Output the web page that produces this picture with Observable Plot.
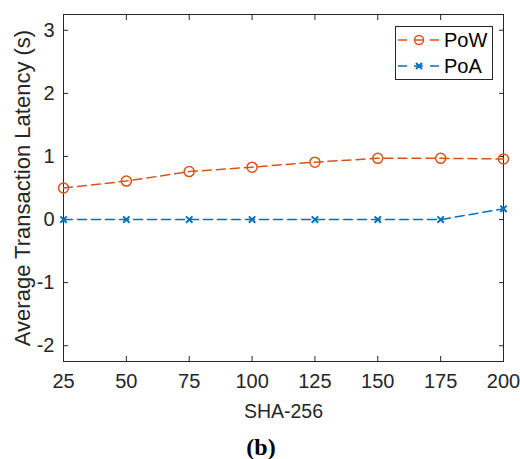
<!DOCTYPE html>
<html>
<head>
<meta charset="utf-8">
<script src="https://cdn.jsdelivr.net/npm/d3@7"></script>
<script src="https://cdn.jsdelivr.net/npm/@observablehq/plot@0.6"></script>
<style>
  body { margin: 0; background: #fff; }
  #wrap { position: relative; width: 520px; height: 459px; overflow: hidden; font-family: "Liberation Sans", Arial, sans-serif; color: #262626; }
  #legend { position: absolute; left: 395px; top: 26px; width: 96px; height: 52px; border: 1px solid #262626; background: #fff; }
  .row { position: absolute; left: 0; height: 26px; display: flex; align-items: center; }
  .row svg { display: block; }
  .row span { font-size: 20px; margin-left: 0px; color: #000; }
  #caption { position: absolute; left: 0; width: 522px; top: 432px; text-align: center; font-family: "Liberation Serif", "DejaVu Serif", serif; font-weight: bold; font-size: 24px; color: #000; line-height: 30px; }
</style>
</head>
<body>
<div id="wrap">
  <div id="chart"></div>
  <div id="legend"></div>
  <div id="caption">(b)</div>
</div>
<script>
const sizes = [25, 50, 75, 100, 125, 150, 175, 200];
const powLatency = [0.50, 0.61, 0.76, 0.83, 0.91, 0.97, 0.97, 0.96];
const poaLatency = [0.00, 0.00, 0.00, 0.00, 0.00, 0.00, 0.00, 0.17];
const seriesNames = ["PoW", "PoA"];
const seriesColors = ["#D95319", "#0072BD"];
const xTicks = [25, 50, 75, 100, 125, 150, 175, 200];
const yTicks = [-2, -1, 0, 1, 2, 3];
const xTitle = "SHA-256";
const yTitle = "Average Transaction Latency (s)";

const pow = sizes.map((s, i) => ({x: s, y: powLatency[i]}));
const poa = sizes.map((s, i) => ({x: s, y: poaLatency[i]}));

const ink = "#262626";
const dash = "9,5";
const fmt = d => String(d);

const chart = Plot.plot({
  width: 520,
  height: 430,
  marginLeft: 63,
  marginRight: 17,
  marginTop: 14,
  marginBottom: 69,
  style: {fontFamily: "Liberation Sans, Arial, sans-serif", fontSize: "20px", color: ink, background: "white"},
  x: {domain: [25, 200], ticks: xTicks, label: null},
  y: {domain: [-2.25, 3.25], ticks: yTicks, label: null},
  marks: [
    Plot.frame({stroke: ink, strokeWidth: 1}),
    // inward ticks
    Plot.axisX(xTicks, {anchor: "bottom", tickSize: 5, dy: -5, tickFormat: () => "", label: null, stroke: ink}),
    Plot.axisX(xTicks, {anchor: "top", tickSize: 5, dy: 5, tickFormat: () => "", label: null, stroke: ink}),
    Plot.axisY(yTicks, {anchor: "left", tickSize: 5, dx: 5, tickFormat: () => "", label: null, stroke: ink}),
    Plot.axisY(yTicks, {anchor: "right", tickSize: 5, dx: -5, tickFormat: () => "", label: null, stroke: ink}),
    // tick labels
    Plot.axisX(xTicks, {anchor: "bottom", tickSize: 0, tickPadding: 12, fill: ink, tickFormat: fmt, label: null}),
    Plot.axisY(yTicks, {anchor: "left", tickSize: 0, tickPadding: 9, fill: ink, tickFormat: fmt, label: null}),
    // axis titles
    Plot.text([xTitle], {text: d => d, frameAnchor: "bottom", dy: 50, lineAnchor: "middle", fontSize: 19.5, fill: ink}),
    Plot.text([yTitle], {text: d => d, frameAnchor: "left", rotate: -90, dx: -41, textAnchor: "middle", lineAnchor: "middle", fontSize: 22, fill: ink}),
    Plot.line(pow, {x: "x", y: "y", stroke: seriesColors[0], strokeWidth: 1.5, strokeDasharray: dash}),
    Plot.line(poa, {x: "x", y: "y", stroke: seriesColors[1], strokeWidth: 1.5, strokeDasharray: dash}),
    Plot.dot(pow, {x: "x", y: "y", r: 5, stroke: seriesColors[0], strokeWidth: 1.5, fill: "white", fillOpacity: 0}),
    Plot.dot(poa, {x: "x", y: "y", r: 3, symbol: "times", stroke: seriesColors[1], strokeWidth: 2})
  ]
});
document.getElementById("chart").appendChild(chart);

// legend
const legend = document.getElementById("legend");
seriesNames.forEach((name, i) => {
  const row = document.createElement("div");
  row.className = "row";
  row.style.top = (i * 26) + "px";
  const c = seriesColors[i];
  const marker = i === 0
    ? `<circle cx="23" cy="10" r="4.5" fill="none" stroke="${c}" stroke-width="1.5"/>`
    : `<path d="M20,7 L26,13 M26,7 L20,13" stroke="${c}" stroke-width="2"/>`;
  row.innerHTML = `<svg width="48" height="20"><line x1="2" y1="10" x2="46" y2="10" stroke="${c}" stroke-width="1.5" stroke-dasharray="9,7"/>${marker}</svg><span>${name}</span>`;
  legend.appendChild(row);
});
</script>
</body>
</html>
